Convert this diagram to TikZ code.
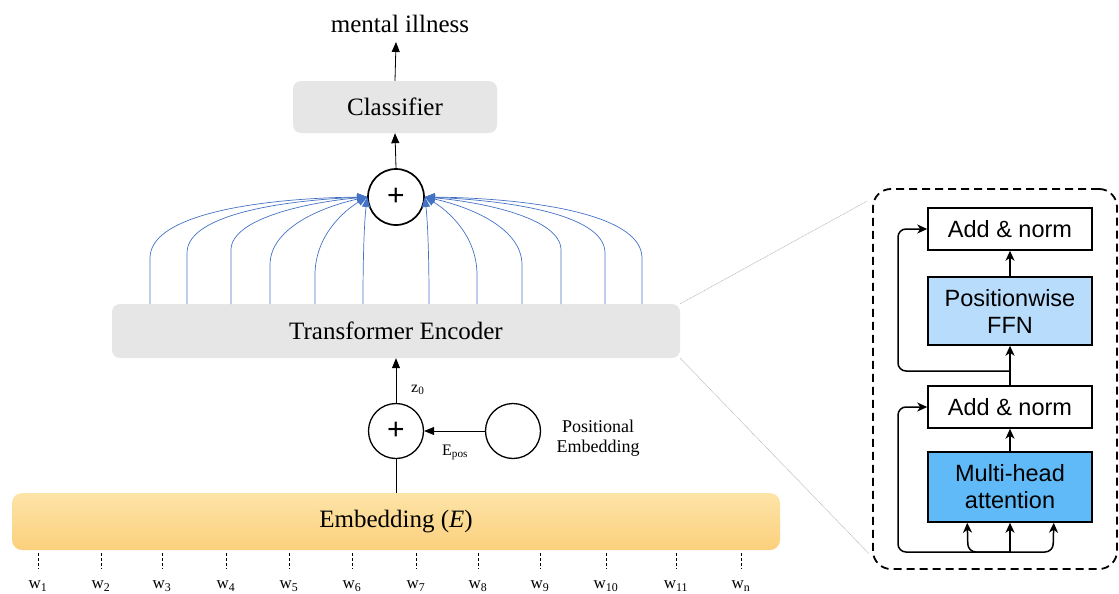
\documentclass[tikz,border=0pt]{standalone}
\usepackage{fontspec}
\setmainfont{Liberation Serif}
\newfontfamily\sansf{Liberation Sans}
\usetikzlibrary{arrows.meta,calc}
\definecolor{boxgray}{HTML}{E6E6E6}
\definecolor{lineblue}{HTML}{4472C4}
\definecolor{ffnblue}{HTML}{B8DCFB}
\definecolor{mhablue}{HTML}{5FBAF7}
\definecolor{embtop}{HTML}{FDE4A8}
\definecolor{embbot}{HTML}{FBD07C}
\begin{document}
\begin{tikzpicture}[x=1pt,y=-1pt,
  graybox/.style={fill=boxgray, rounded corners=8pt, inner sep=0pt, font=\fontsize{25}{30}\selectfont},
  sumnode/.style={circle, draw, line width=1.7pt, minimum size=56pt, inner sep=0pt, font=\sansf\fontsize{30}{32}\selectfont},
  arr/.style={-{Triangle[length=10pt,width=8pt]}, line width=0.8pt},
  barr/.style={lineblue, line width=0.7pt, -{Triangle[length=10pt,width=8pt]}},
  blk/.style={draw, line width=1.5pt, minimum width=164pt, inner sep=0pt, align=center, font=\sansf\fontsize{23.5}{27}\selectfont},
  karr/.style={line width=1.5pt, -{Stealth[length=10pt,width=9pt,inset=3pt]}},
  zoomline/.style={gray!55, line width=0.6pt, dash pattern=on 1pt off 0.6pt},
  tick/.style={line width=0.6pt, dash pattern=on 3pt off 2pt},
  lbl/.style={font=\fontsize{16}{18}\selectfont, inner sep=0pt},
]
\useasboundingbox (0,0) rectangle (1119,594);

% left column
\node[font=\fontsize{25}{30}\selectfont, anchor=base] (out) at (400,33) {mental illness};
\coordinate (outtip) at (396,42);
\node[graybox, minimum width=204pt, minimum height=52pt] (cls) at (395,107) {Classifier};
\node[sumnode] (s1) at (396,197) {+};
\node[graybox, minimum width=568pt, minimum height=54pt] (enc) at (396,331) {Transformer Encoder};
\node[sumnode, line width=1.3pt, minimum size=55pt] (s2) at (396,431) {+};
\node[circle, draw, line width=1.3pt, minimum size=55pt, inner sep=0pt] (pe) at (513,431) {};
\node[align=center, font=\fontsize{18}{20}\selectfont] (pel) at (598,438) {Positional\\Embedding};
\node[rounded corners=10pt, top color=embtop, bottom color=embbot, minimum width=768pt, minimum height=57pt, inner sep=0pt, font=\fontsize{25}{30}\selectfont] (emb) at (396,521.5) {Embedding (\textit{E})};

\draw[arr] (cls.north) -- (outtip);
\draw[arr] (s1.north) -- (cls.south);
\draw[arr] (s2.north) -- (enc.south);
\draw[line width=0.8pt] (emb.north) -- (s2.south);
\draw[arr] (pe.west) -- (s2.east);
\node[lbl, anchor=base west] (z0) at (411,392) {z\textsubscript{0}};
\node[lbl, anchor=base west] (ep) at (442,455) {E\textsubscript{pos}};

% blue curves into the upper sum
\foreach \x/\yv/\ca/\cbx/\cby [count=\i] in {150/258/212/270/198, 187/253/213/290/200, 231/250/218/310/202, 270/265/225/330/205, 315/275/235/345/210, 363/300/262/364/225}{
  \coordinate (l\i) at (\x,304);
  \draw[barr] (l\i) -- (\x,\yv) .. controls (\x,\ca) and (\cbx,\cby) .. (s1.west);
  \pgfmathsetmacro{\xr}{792-\x}
  \pgfmathsetmacro{\cbr}{792-\cbx}
  \coordinate (r\i) at (\xr,304);
  \draw[barr] (r\i) -- (\xr,\yv) .. controls (\xr,\ca) and (\cbr,\cby) .. (s1.east);
}

% ticks and word labels
\foreach \x/\l in {38/1,101/2,162/3,226/4,289/5,352/6,416/7,478/8,540/9,606/10,676/11,741/n}{
  \coordinate (ta\l) at (\x,553);
  \coordinate (tb\l) at (\x,569);
  \draw[tick] (ta\l) -- (tb\l);
  \node[anchor=base, font=\fontsize{17}{19}\selectfont, inner sep=0pt] (w\l) at (\x,588.5) {w\textsubscript{\l}};
}

% zoomed block
\node[draw, line width=1.8pt, dash pattern=on 8pt off 5pt, rounded corners=18pt, minimum width=244pt, minimum height=380pt, inner sep=0pt] (zbox) at (995,379) {};
\draw[zoomline] (enc.north east) -- ($(zbox.north west)+(-5,13)$);
\draw[zoomline] (enc.south east) -- ($(zbox.south west)+(-3,-16)$);

\node[blk, minimum height=42pt] (an1) at (1010,229) {Add \& norm};
\node[blk, fill=ffnblue, minimum height=68pt] (ffn) at (1010,311) {Positionwise\\FFN};
\node[blk, minimum height=42pt] (an2) at (1010,407) {Add \& norm};
\node[blk, fill=mhablue, minimum height=70pt] (mha) at (1010,487) {Multi-head\\attention};

\draw[karr] (mha.north) -- (an2.south);
\draw[karr] (an2.north) -- (ffn.south);
\draw[karr] (ffn.north) -- (an1.south);

\coordinate (br1) at (1010,371);
\draw[karr, rounded corners=8pt] (br1) -- (898,371) -- (898,229) -- (an1.west);
\coordinate (in) at (1010,552);
\draw[karr, rounded corners=8pt] (in) -- (898,552) -- (898,407) -- (an2.west);
\draw[karr, rounded corners=8pt] (in) -- (968,552) -- ($(mha.south west)+(40,0)$);
\draw[karr, rounded corners=8pt] (in) -- (1053,552) -- ($(mha.south east)+(-39,0)$);
\draw[karr] (in) -- (mha.south);
\end{tikzpicture}
\end{document}
